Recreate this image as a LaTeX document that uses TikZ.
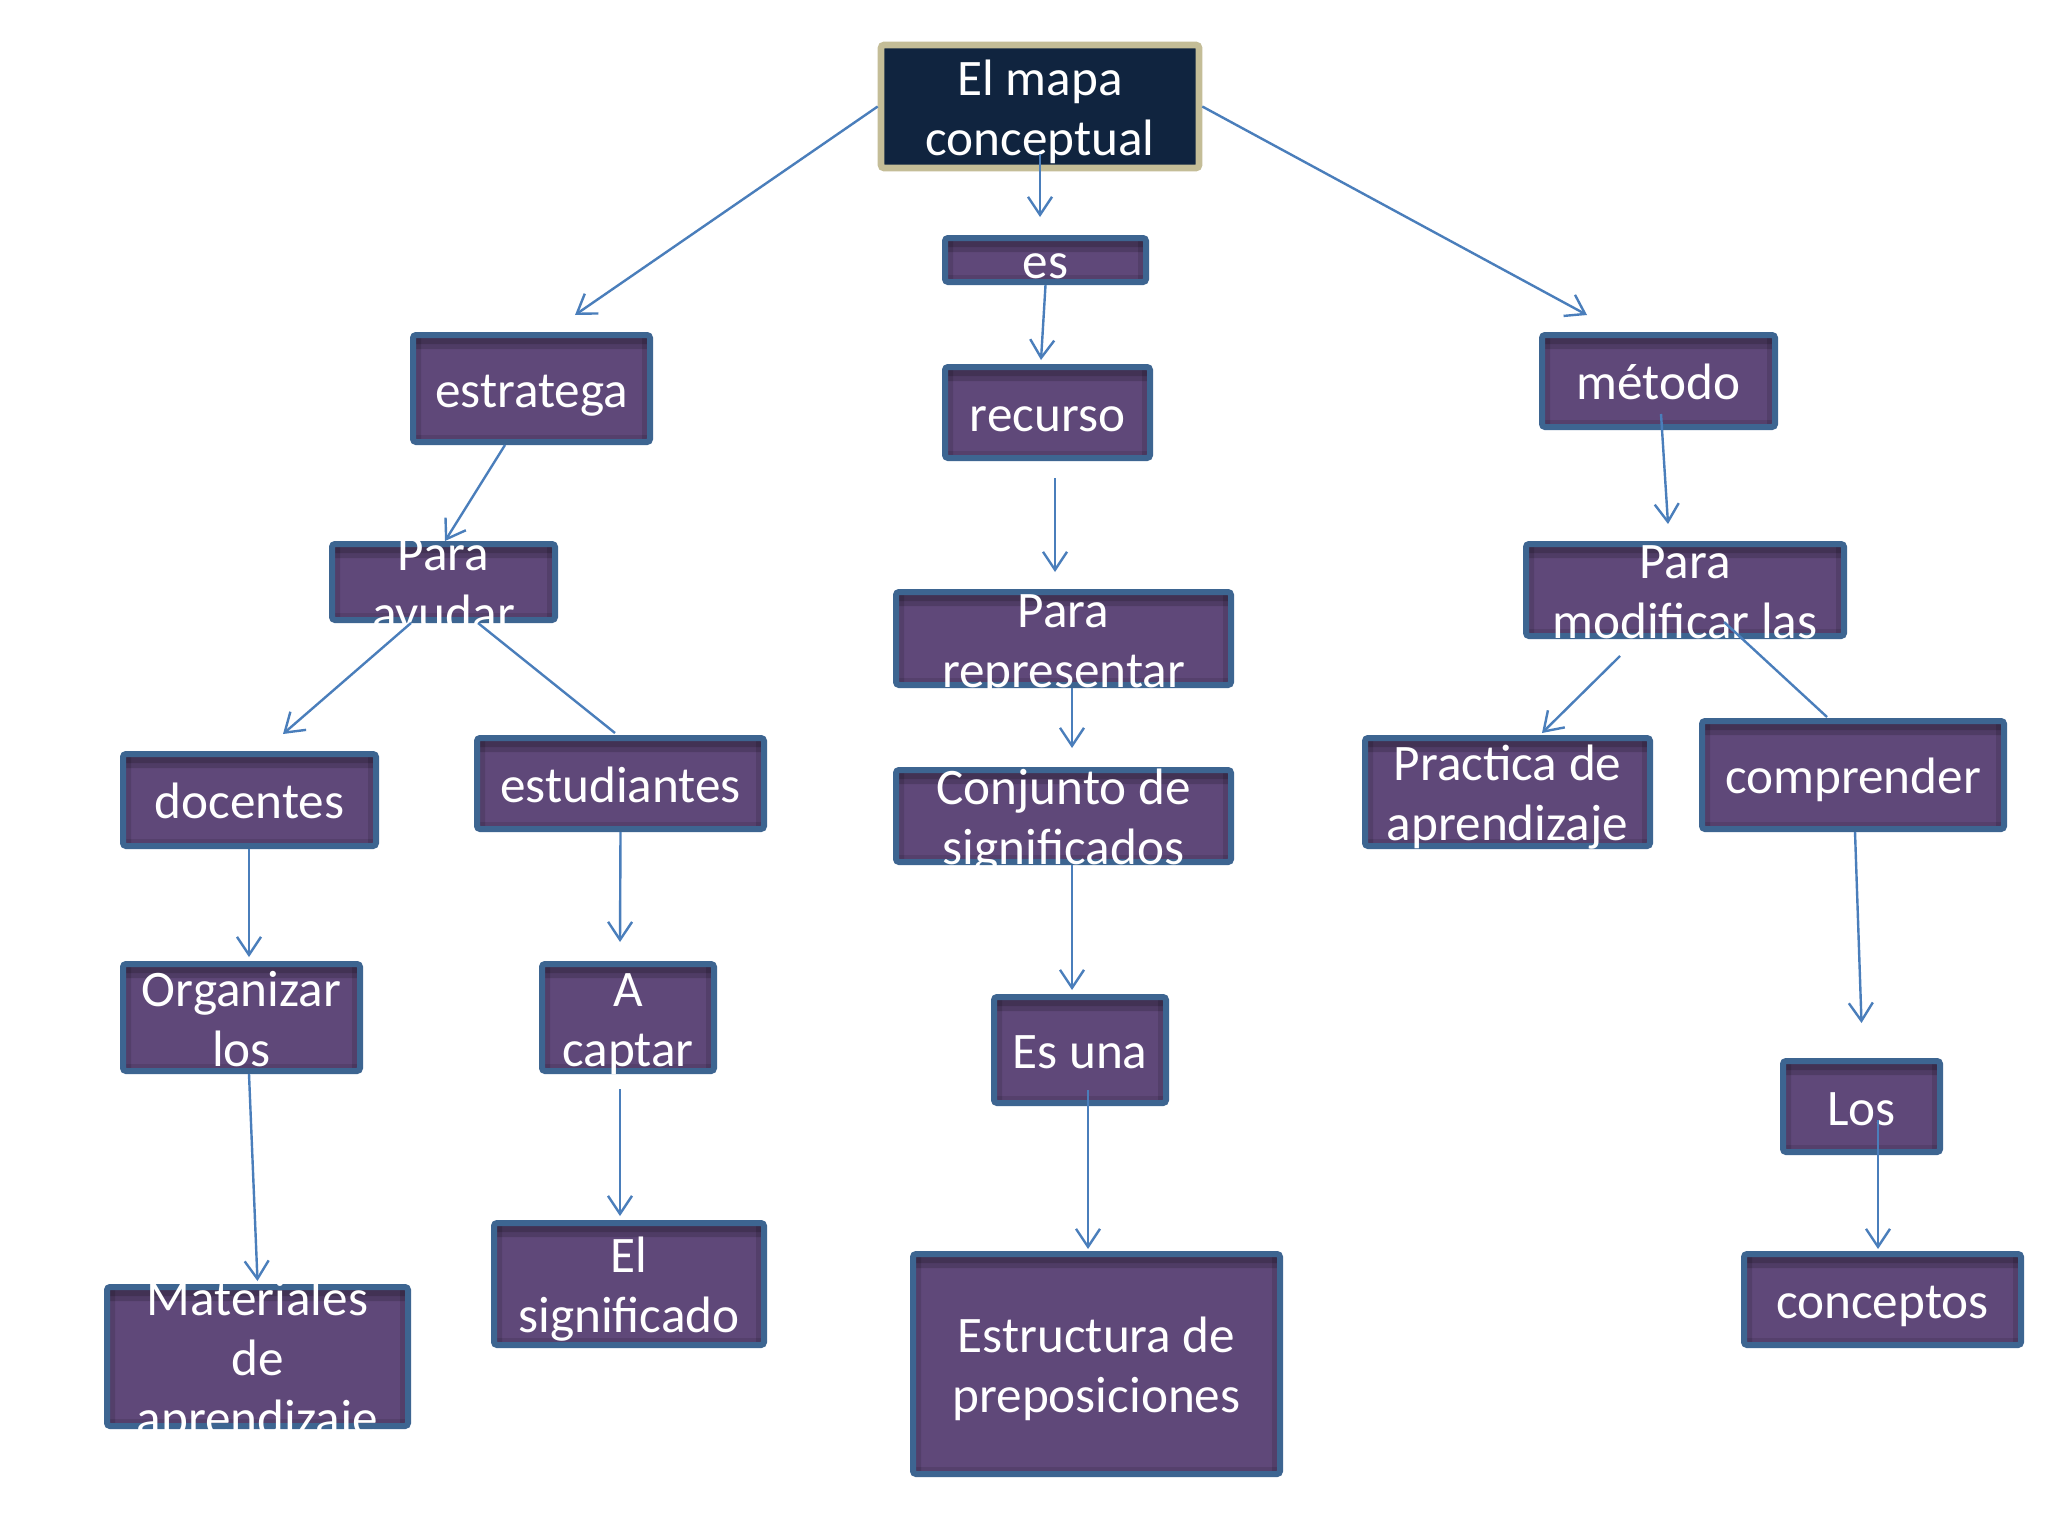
\documentclass[tikz,border=0pt]{standalone}
\usepackage{fontspec}
\setmainfont{Carlito}
\usetikzlibrary{arrows.meta,fit,calc}
\definecolor{boxfill}{HTML}{5F4879}
\definecolor{boxline}{HTML}{3D6591}
\definecolor{topfill}{HTML}{10243F}
\definecolor{topline}{HTML}{C4BD97}
\definecolor{connc}{HTML}{4A7EBB}
\tikzset{
  cbox/.style={rectangle, draw=boxline, fill=boxfill, line width=3pt, inner sep=0pt, rounded corners=1.5pt,
    path picture={
      \fill[black, opacity=0.16] (path picture bounding box.north west) rectangle ([yshift=-7pt]path picture bounding box.north east);
      \fill[black, opacity=0.16] (path picture bounding box.north west) rectangle ([yshift=-4.5pt]path picture bounding box.north east);
      \fill[black, opacity=0.12] (path picture bounding box.north west) rectangle ([xshift=4pt]path picture bounding box.south west);
      \fill[black, opacity=0.12] (path picture bounding box.north east) rectangle ([xshift=-4pt]path picture bounding box.south east);
      \fill[black, opacity=0.10] (path picture bounding box.south west) rectangle ([yshift=3.5pt]path picture bounding box.south east);
    }},
  tbox/.style={rectangle, draw=topline, fill=topfill, line width=3.3pt, inner sep=0pt, rounded corners=1.5pt},
  txt/.style={text=white, align=center, font=\fontsize{25.6}{30}\selectfont, inner sep=0pt, yshift=-3.3pt},
  conn/.style={draw=connc, line width=1.2pt, -{Straight Barb[length=9pt,width=12pt]}},
  connplain/.style={draw=connc, line width=1.2pt},
}
\newcommand\mybox[6]{\node[#1, fit={(#3+3,#4+3)(#5-3,#6-3)}] (#2) {};}
\begin{document}
\begin{tikzpicture}[x=0.5pt,y=-0.5pt]
\fill[white] (0,0) rectangle (2048,1536);
\useasboundingbox (0,0) rectangle (2048,1536);
% boxes
\mybox{tbox}{top}{878}{42}{1202}{171}
\mybox{cbox}{es}{942}{235}{1149}{285}
\mybox{cbox}{estratega}{410}{332}{653}{445}
\mybox{cbox}{recurso}{942}{364}{1153}{461}
\mybox{cbox}{metodo}{1539}{332}{1778}{430}
\mybox{cbox}{ayudar}{329}{541}{558}{623}
\mybox{cbox}{repres}{893}{589}{1234}{688}
\mybox{cbox}{modif}{1523}{541}{1847}{639}
\mybox{cbox}{docentes}{120}{751}{379}{849}
\mybox{cbox}{estud}{474}{735}{767}{832}
\mybox{cbox}{conjunto}{893}{767}{1234}{865}
\mybox{cbox}{practica}{1362}{735}{1653}{849}
\mybox{cbox}{comprender}{1699}{718}{2007}{832}
\mybox{cbox}{organizar}{120}{961}{363}{1074}
\mybox{cbox}{captar}{539}{961}{717}{1074}
\mybox{cbox}{esuna}{991}{994}{1169}{1106}
\mybox{cbox}{los}{1780}{1058}{1943}{1155}
\mybox{cbox}{materiales}{104}{1284}{411}{1429}
\mybox{cbox}{significado}{491}{1220}{767}{1348}
\mybox{cbox}{estructura}{910}{1251}{1283}{1477}
\mybox{cbox}{conceptos}{1741}{1251}{2024}{1348}
% texts
\node[txt] (t-top) at (top.center) {\strut El mapa\\conceptual\strut};
\node[txt] (t-es) at (es.center) {\strut es};
\node[txt] (t-estratega) at (estratega.center) {\strut estratega};
\node[txt] (t-recurso) at (recurso.center) {\strut recurso};
\node[txt] (t-metodo) at (metodo.center) {\strut método};
\node[txt] (t-ayudar) at (ayudar.center) {\strut Para\\ayudar\strut};
\node[txt] (t-repres) at (repres.center) {\strut Para\\representar\strut};
\node[txt] (t-modif) at (modif.center) {\strut Para\\modificar las\strut};
\node[txt] (t-docentes) at (docentes.center) {\strut docentes};
\node[txt] (t-estud) at (estud.center) {\strut estudiantes};
\node[txt] (t-conjunto) at (conjunto.center) {\strut Conjunto de\\significados\strut};
\node[txt] (t-practica) at (practica.center) {\strut Practica de\\aprendizaje\strut};
\node[txt] (t-comprender) at (comprender.center) {\strut comprender};
\node[txt] (t-organizar) at (organizar.center) {\strut Organizar\\los\strut};
\node[txt] (t-captar) at (captar.center) {\strut A\\captar\strut};
\node[txt] (t-esuna) at (esuna.center) {\strut Es una};
\node[txt] (t-los) at (los.center) {\strut Los};
\node[txt] (t-materiales) at (materiales.center) {\strut Materiales\\de\\aprendizaje\strut};
\node[txt] (t-significado) at (significado.center) {\strut El\\significado\strut};
\node[txt] (t-estructura) at (estructura.center) {\strut Estructura de\\preposiciones\strut};
\node[txt] (t-conceptos) at (conceptos.center) {\strut conceptos};
% connectors
\draw[conn] (top.west) -- ($(estratega.north)+(43.5,-17)$);
\draw[conn] ($(top.center)+(0,47.5)$) -- ($(es.north)+(-5.5,-18)$);
\draw[conn] (top.east) -- ($(metodo.north)+(-71.5,-17)$);
\draw[conn] (es.south) -- ($(recurso.north)+(-6.5,-4)$);
\draw[conn] ($(recurso.south)+(7.5,17)$) -- ($(repres.north)+(-8.5,-17)$);
\draw[conn] ($(metodo.center)+(2.5,33)$) -- ($(modif.north)+(-17,-17)$);
\draw[conn] ($(estratega.south)+(-26.5,0)$) -- ($(ayudar.north)+(1.5,0)$);
\draw[conn] ($(ayudar.south)+(-32.5,0)$) -- ($(docentes.north)+(33.5,-17)$);
\draw[connplain] ($(ayudar.south)+(34.5,0)$) -- ($(estud.north)+(-5.5,-2)$);
\draw[conn] ($(repres.south)+(8.5,0)$) -- ($(conjunto.north)+(8.5,-19)$);
\draw[conn] ($(modif.south)+(-65,17)$) -- ($(practica.north)+(34.5,-2)$);
\draw[connplain] ($(modif.center)+(39,32)$) -- ($(comprender.north)+(-26,-1)$);
\draw[conn] ($(docentes.south)+(-0.5,0)$) -- ($(organizar.north)+(7.5,-4)$);
\draw[conn] (estud.south) -- ($(captar.north)+(-8,-19)$);
\draw[conn] ($(conjunto.south)+(8.5,0)$) -- ($(esuna.north)+(-8,-4)$);
\draw[conn] ($(comprender.south)+(2,0)$) -- ($(los.north)+(0,-35)$);
\draw[conn] ($(organizar.south)+(7.5,0)$) -- ($(materiales.north)+(0,-3)$);
\draw[conn] ($(captar.south)+(-8,15)$) -- ($(significado.north)+(-9,-4)$);
\draw[conn] ($(esuna.south)+(8,-16)$) -- ($(estructura.north)+(-8.5,-2)$);
\draw[conn] ($(los.center)+(16.5,13.5)$) -- ($(conceptos.north)+(-4.5,-2)$);
\end{tikzpicture}
\end{document}
